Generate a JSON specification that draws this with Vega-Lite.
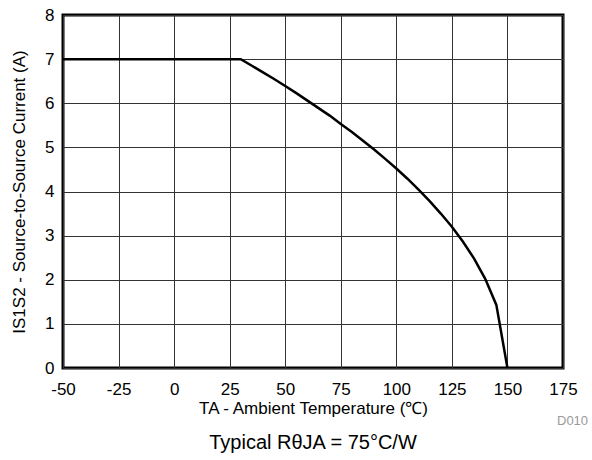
{
  "$schema": "https://vega.github.io/schema/vega-lite/v6.json",
  "width": 500,
  "height": 353,
  "autosize": {"type": "none"},
  "padding": {"left": 63, "top": 15, "right": 29, "bottom": 92},
  "background": "white",
  "config": {
    "font": "Liberation Sans",
    "view": {"stroke": "black", "strokeWidth": 3},
    "axis": {
      "domain": false,
      "ticks": false,
      "grid": true,
      "gridColor": "#333333",
      "gridWidth": 1,
      "labelFlush": false,
      "labelOverlap": false,
      "labelFont": "Liberation Sans",
      "labelFontSize": 17,
      "labelColor": "black",
      "titleFont": "Liberation Sans",
      "titleFontSize": 17,
      "titleFontWeight": "normal",
      "titleColor": "black"
    }
  },
  "title": {
    "text": "Typical RθJA = 75°C/W",
    "orient": "bottom",
    "anchor": "middle",
    "fontSize": 20,
    "fontWeight": "normal",
    "font": "Liberation Sans",
    "color": "black",
    "offset": 5
  },
  "data": {
    "values": [
      {"t": -50, "i": 7.0},
      {"t": 30, "i": 7.0},
      {"t": 35, "i": 6.85},
      {"t": 40, "i": 6.70},
      {"t": 45, "i": 6.55},
      {"t": 50, "i": 6.39},
      {"t": 55, "i": 6.23},
      {"t": 60, "i": 6.06},
      {"t": 65, "i": 5.89},
      {"t": 70, "i": 5.72},
      {"t": 75, "i": 5.53},
      {"t": 80, "i": 5.35},
      {"t": 85, "i": 5.15},
      {"t": 90, "i": 4.95},
      {"t": 95, "i": 4.74},
      {"t": 100, "i": 4.52},
      {"t": 105, "i": 4.29},
      {"t": 110, "i": 4.04},
      {"t": 115, "i": 3.78},
      {"t": 120, "i": 3.50},
      {"t": 125, "i": 3.20},
      {"t": 130, "i": 2.86},
      {"t": 135, "i": 2.48},
      {"t": 140, "i": 2.02},
      {"t": 145, "i": 1.43},
      {"t": 150, "i": 0.0}
    ]
  },
  "layer": [
    {
      "mark": {"type": "line", "color": "black", "strokeWidth": 2.5, "strokeJoin": "miter"},
      "encoding": {
        "x": {
          "field": "t",
          "type": "quantitative",
          "scale": {"domain": [-50, 175], "nice": false, "zero": false},
          "axis": {
            "values": [-50, -25, 0, 25, 50, 75, 100, 125, 150, 175],
            "labelExpr": "replace(datum.label, '−', '-')",
            "title": "TA - Ambient Temperature (℃)",
            "labelPadding": 13,
            "titlePadding": 3
          }
        },
        "y": {
          "field": "i",
          "type": "quantitative",
          "scale": {"domain": [0, 8], "nice": false},
          "axis": {
            "values": [0, 1, 2, 3, 4, 5, 6, 7, 8],
            "title": "IS1S2 - Source-to-Source Current (A)",
            "labelPadding": 9,
            "titlePadding": 16
          }
        }
      }
    },
    {
      "data": {"values": [{"label": "D010"}]},
      "mark": {"type": "text", "fontSize": 13, "color": "#9a9a9a", "align": "left", "baseline": "alphabetic", "dx": -6, "font": "Liberation Sans"},
      "encoding": {
        "x": {"datum": 175, "type": "quantitative"},
        "y": {"datum": -1.29, "type": "quantitative"},
        "text": {"field": "label", "type": "nominal"}
      }
    }
  ]
}
